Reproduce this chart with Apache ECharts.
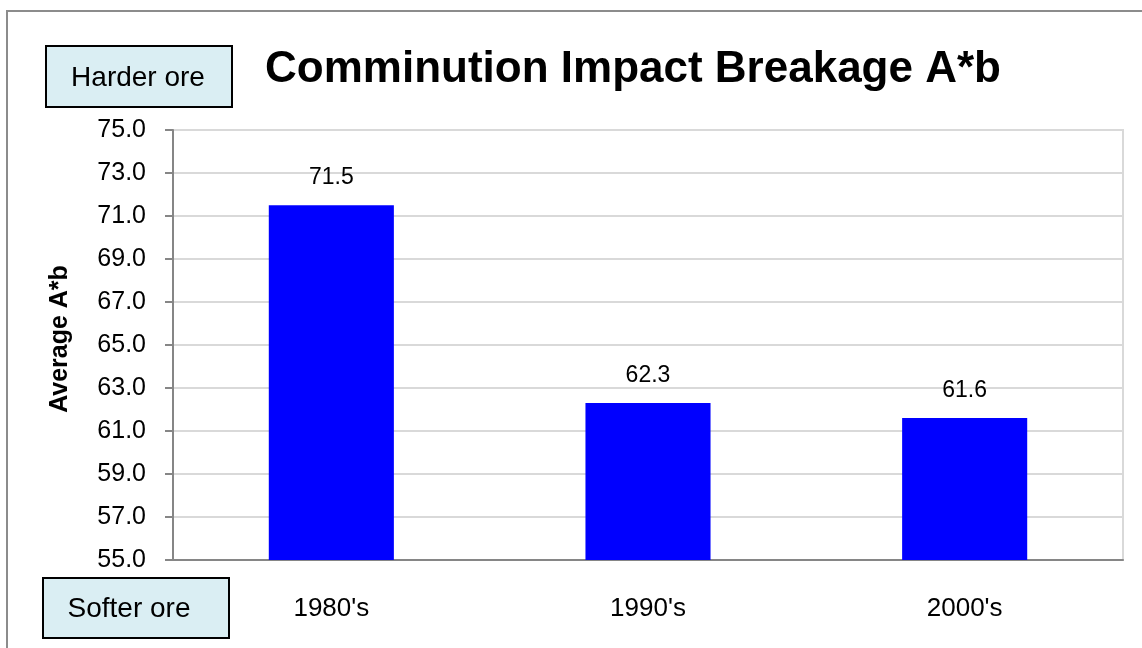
<!DOCTYPE html>
<html>
<head>
<meta charset="utf-8">
<script src="https://cdn.jsdelivr.net/npm/echarts@6/dist/echarts.min.js"></script>
<style>html,body{margin:0;padding:0;background:#fff;}#c{width:1142px;height:648px;}</style>
</head>
<body>
<div id="c"></div>
<script>
const categories = ["1980's", "1990's", "2000's"];
const values = [71.5, 62.3, 61.6];
const yTicks = [55, 57, 59, 61, 63, 65, 67, 69, 71, 73, 75];
const titleText = 'Comminution Impact Breakage A*b';
const yName = 'Average A*b';
const topBoxText = 'Harder ore';
const bottomBoxText = 'Softer ore';

const FONT = '"Liberation Sans", Arial, sans-serif';
const chart = echarts.init(document.getElementById('c'), null, {renderer: 'canvas'});
chart.setOption({
  animation: false,
  backgroundColor: '#ffffff',
  grid: {left: 173, right: 19, top: 130, bottom: 88, show: true, borderColor: '#d9d9d9', borderWidth: 2, containLabel: false},
  xAxis: {
    type: 'category',
    data: categories,
    axisLine: {lineStyle: {color: '#868686', width: 2}},
    axisTick: {show: false},
    axisLabel: {margin: 36, color: '#000', fontSize: 26, fontFamily: FONT}
  },
  yAxis: {
    type: 'value',
    min: 55, max: 75,
    name: yName,
    nameLocation: 'middle',
    nameGap: 100,
    nameTextStyle: {fontSize: 25, fontWeight: 'bold', color: '#000', fontFamily: FONT, padding: [0, 0, 0, 12]},
    axisLine: {show: true, lineStyle: {color: '#868686', width: 2}},
    axisTick: {show: true, length: 8, lineStyle: {color: '#868686', width: 2}, customValues: yTicks},
    axisLabel: {margin: 27, color: '#000', fontSize: 25, fontFamily: FONT, customValues: yTicks,
      formatter: v => v.toFixed(1)},
    splitLine: {show: true, lineStyle: {color: '#d9d9d9', width: 2}}
  },
  series: [{
    type: 'bar',
    data: values,
    barWidth: '39.5%',
    itemStyle: {color: '#0000ff'},
    label: {show: true, position: 'top', distance: 16, color: '#000', fontSize: 23, fontFamily: FONT,
      formatter: p => p.value.toFixed(1)}
  }],
  graphic: [
    {type: 'rect', shape: {x: 7, y: 11, width: 1200, height: 700}, style: {fill: 'none', stroke: '#8c8c8c', lineWidth: 2}, silent: true, z: 100},
    {type: 'text', x: 633, y: 70, style: {text: titleText, font: 'bold 44px ' + FONT, fill: '#000', textAlign: 'center', textVerticalAlign: 'middle'}},
    {type: 'rect', shape: {x: 46, y: 46, width: 186, height: 61}, style: {fill: '#daeef3', stroke: '#000', lineWidth: 2}},
    {type: 'text', x: 138, y: 78, style: {text: topBoxText, font: '28px ' + FONT, fill: '#000', textAlign: 'center', textVerticalAlign: 'middle'}},
    {type: 'rect', shape: {x: 43, y: 578, width: 186, height: 60}, style: {fill: '#daeef3', stroke: '#000', lineWidth: 2}},
    {type: 'text', x: 129, y: 609, style: {text: bottomBoxText, font: '28px ' + FONT, fill: '#000', textAlign: 'center', textVerticalAlign: 'middle'}}
  ]
});
</script>
</body>
</html>
